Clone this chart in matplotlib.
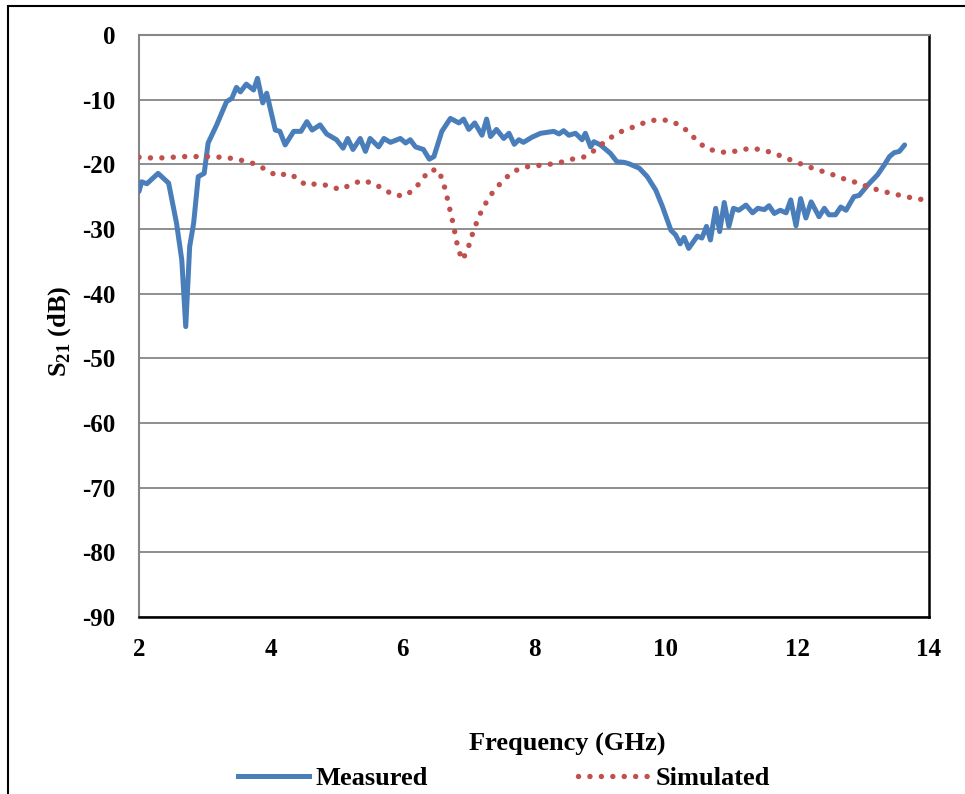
#!/usr/bin/env python3
"""S21 transmission: measured vs simulated over 2-14 GHz."""

import matplotlib

matplotlib.use("Agg")
import matplotlib.pyplot as plt
from matplotlib.lines import Line2D
from matplotlib.patches import Rectangle

# measured S21 (GHz, dB)
measured_freq = [
    2.00, 2.04, 2.12, 2.29, 2.45, 2.57, 2.65, 2.71, 2.77, 2.83, 2.90, 2.99,
    3.05, 3.18, 3.33, 3.41, 3.48, 3.54, 3.63, 3.74, 3.80, 3.88, 3.94, 4.07,
    4.14, 4.22, 4.35, 4.46, 4.55, 4.63, 4.75, 4.85, 5.00, 5.10, 5.17, 5.25,
    5.36, 5.44, 5.51, 5.64, 5.72, 5.82, 5.97, 6.05, 6.12, 6.20, 6.32, 6.41,
    6.48, 6.60, 6.73, 6.86, 6.93, 7.01, 7.10, 7.21, 7.28, 7.34, 7.43, 7.54,
    7.62, 7.70, 7.77, 7.84, 7.97, 8.10, 8.30, 8.38, 8.45, 8.53, 8.63, 8.73,
    8.78, 8.86, 8.91, 9.01, 9.16, 9.26, 9.37, 9.44, 9.60, 9.72, 9.85, 9.95,
    10.08, 10.15, 10.22, 10.28, 10.35, 10.48, 10.55, 10.62, 10.68, 10.76,
    10.82, 10.89, 10.96, 11.03, 11.11, 11.22, 11.32, 11.40, 11.50, 11.57,
    11.65, 11.74, 11.83, 11.90, 11.98, 12.05, 12.13, 12.21, 12.33, 12.41,
    12.48, 12.58, 12.66, 12.74, 12.86, 12.94, 13.07, 13.22, 13.32, 13.40,
    13.47, 13.55, 13.63,
]
measured_s21 = [
    -24.2, -22.7, -23.0, -21.4, -22.9, -29.1, -34.8, -45.1, -32.7, -29.1, -21.9, -21.4,
    -16.7, -13.9, -10.3, -9.8, -8.1, -8.8, -7.6, -8.5, -6.7, -10.5, -9.0, -14.7,
    -14.9, -17.0, -14.9, -14.9, -13.4, -14.7, -13.9, -15.3, -16.2, -17.5, -16.0, -17.7,
    -16.0, -18.0, -16.0, -17.3, -16.0, -16.6, -16.0, -16.7, -16.2, -17.3, -17.7, -19.2,
    -18.8, -14.9, -12.9, -13.6, -13.0, -14.6, -13.6, -15.5, -13.0, -15.7, -14.6, -16.0,
    -15.2, -16.9, -16.2, -16.6, -15.8, -15.2, -14.9, -15.3, -14.8, -15.5, -15.2, -16.2,
    -15.2, -17.3, -16.5, -17.0, -18.3, -19.6, -19.7, -19.9, -20.6, -21.9, -24.0, -26.5,
    -30.2, -30.9, -32.3, -31.3, -33.0, -31.1, -31.4, -29.6, -31.7, -26.8,
    -30.4, -25.9, -29.6, -26.8, -27.1, -26.3, -27.5, -26.8, -27.0, -26.4,
    -27.6, -27.1, -27.5, -25.5, -29.5, -25.3, -28.3, -25.8, -28.1, -26.8,
    -27.8, -27.8, -26.6, -27.1, -25.0, -24.8, -23.2, -21.6, -20.1, -18.8,
    -18.2, -18.0, -17.0,
]

# simulated S21 (GHz, dB)
simulated_freq = [
    2.00, 2.17, 2.35, 2.52, 2.70, 2.88, 3.07, 3.24, 3.43, 3.61, 3.78, 3.94,
    4.10, 4.26, 4.40, 4.53, 4.71, 4.88, 5.05, 5.21, 5.38, 5.55, 5.71, 5.86,
    6.03, 6.18, 6.30, 6.40, 6.54, 6.61, 6.66, 6.70, 6.74, 6.78, 6.81, 6.85,
    6.91, 6.99, 7.04, 7.10, 7.16, 7.24, 7.33, 7.44, 7.57, 7.71, 7.87, 8.05,
    8.23, 8.40, 8.58, 8.75, 8.91, 9.04, 9.19, 9.35, 9.52, 9.69, 9.86, 10.04,
    10.21, 10.35, 10.47, 10.61, 10.78, 10.95, 11.13, 11.30, 11.48, 11.65, 11.82,
    11.99, 12.15, 12.32, 12.49, 12.66, 12.83, 13.00, 13.17, 13.35, 13.52, 13.70,
    13.87, 14.00,
]
simulated_s21 = [
    -18.9, -19.0, -19.0, -18.9, -18.8, -18.8, -18.8, -18.9, -19.1, -19.5, -20.0, -20.9,
    -21.8, -21.4, -22.1, -23.2, -23.0, -23.3, -23.9, -23.2, -22.5, -22.9, -23.8, -24.7,
    -24.9, -23.9, -22.4, -21.0, -20.8, -22.4, -24.2, -26.0, -27.8, -29.5, -31.3, -33.1,
    -34.8, -33.3, -31.5, -29.8, -28.1, -26.5, -24.9, -23.5, -22.1, -21.0, -20.4, -20.2,
    -20.0, -19.7, -19.2, -18.9, -17.9, -16.8, -15.7, -14.8, -14.2, -13.5, -13.1, -13.2,
    -13.9, -15.0, -16.3, -17.5, -18.0, -18.2, -17.8, -17.5, -17.8, -18.3, -19.0,
    -19.7, -20.3, -20.9, -21.4, -22.1, -22.6, -23.2, -23.8, -24.3, -24.7, -25.1,
    -25.4, -25.6,
]

x_ticks = [2, 4, 6, 8, 10, 12, 14]
y_ticks = [0, -10, -20, -30, -40, -50, -60, -70, -80, -90]

BLUE = "#4a7ebb"
RED = "#c0504d"
GRID = "#868686"
MEAS_LW = 3.6
SIM_LW = 3.9
SIM_DASH = (0, (0.01, 2.1))

plt.rcParams["font.family"] = ["Liberation Serif", "DejaVu Serif"]
plt.rcParams["font.weight"] = "bold"
plt.rcParams["mathtext.fontset"] = "custom"
plt.rcParams["mathtext.rm"] = "Liberation Serif:bold"
plt.rcParams["mathtext.bf"] = "Liberation Serif:bold"

fig = plt.figure(figsize=(9.65, 7.94), dpi=100)
fig.patch.set_facecolor("white")

# outer chart border
fig.add_artist(Rectangle((8 / 965, -0.05), 1.2, 0.05 + 1 - 6 / 794,
                         transform=fig.transFigure, fill=False,
                         edgecolor="black", linewidth=1.5))

ax = fig.add_axes([139 / 965, 1 - 617 / 794, (929 - 139) / 965, (617 - 35) / 794])
ax.plot(measured_freq, measured_s21, color=BLUE, linewidth=MEAS_LW,
        solid_joinstyle="round", solid_capstyle="round", zorder=3)
ax.plot(simulated_freq, simulated_s21, color=RED, linewidth=SIM_LW,
        linestyle=SIM_DASH, dash_capstyle="round", zorder=3)

ax.set_xlim(2, 14)
ax.set_ylim(-90, 0)
ax.set_xticks(x_ticks)
ax.set_yticks(y_ticks)
ax.set_xticklabels([str(t) for t in x_ticks], fontsize=18, fontweight="bold")
ax.set_yticklabels([str(t) for t in y_ticks], fontsize=18, fontweight="bold")
ax.tick_params(axis="both", length=0)
ax.tick_params(axis="x", pad=15)
ax.tick_params(axis="y", pad=17)
ax.grid(axis="y", color=GRID, linewidth=1.3, zorder=0)
ax.set_axisbelow(True)

ax.spines["left"].set_color(GRID)
ax.spines["left"].set_linewidth(1.5)
ax.spines["top"].set_color(GRID)
ax.spines["top"].set_linewidth(1.5)
ax.spines["right"].set_color("black")
ax.spines["right"].set_linewidth(1.8)
ax.spines["bottom"].set_color("black")
ax.spines["bottom"].set_linewidth(1.8)

fig.text(60 / 965, 1 - 331 / 794, r"S$_{\mathrm{21}}$ (dB)", rotation=90,
         ha="center", va="center", fontsize=19, fontweight="bold")
fig.text(567 / 965, 1 - 744 / 794, "Frequency (GHz)",
         ha="center", va="center", fontsize=19, fontweight="bold")

handles = [
    Line2D([], [], color=BLUE, linewidth=MEAS_LW),
    Line2D([], [], color=RED, linewidth=SIM_LW, linestyle=SIM_DASH, dash_capstyle="round"),
]
fig.legend(handles, ["Measured", "Simulated"], loc="center",
           bbox_to_anchor=(504 / 965, 1 - 778 / 794), ncol=2, frameon=False,
           prop={"size": 19, "weight": "bold"}, handlelength=2.7,
           handletextpad=0.25, columnspacing=5.7, borderpad=0, borderaxespad=0)

fig.savefig("out.png", dpi=100)
plt.close(fig)
